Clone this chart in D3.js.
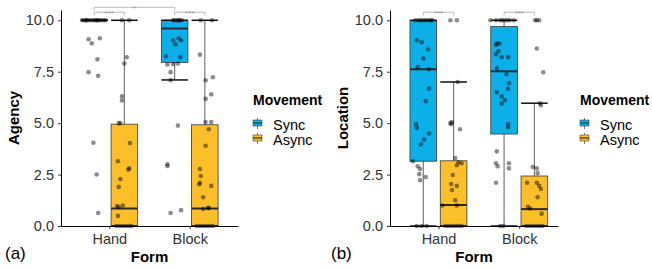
<!DOCTYPE html>
<html>
<head>
<meta charset="utf-8">
<script src="https://cdn.jsdelivr.net/npm/d3@7.9.0/dist/d3.min.js"></script>
<style>
  body { margin: 0; background: #fff; }
  svg { display: block; font-family: "Liberation Sans", Arial, sans-serif; }
</style>
</head>
<body>
<svg id="chart" width="652" height="269"></svg>
<script>
const forms = ["Hand", "Block"];
const movements = ["Sync", "Async"];
const yTicks = [0, 2.5, 5, 7.5, 10];

// box stats: [lower whisker, q1, median, q3, upper whisker]
// order: Hand Sync, Hand Async, Block Sync, Block Async
const agencyStats = [
  [10, 10, 10, 10, 10],
  [0, 0, 0.85, 4.95, 10],
  [7.1, 7.95, 9.6, 10, 10],
  [0, 0, 0.85, 4.92, 10]
];
const locationStats = [
  [0, 3.15, 7.62, 10, 10],
  [0, 0, 1.02, 3.17, 7.0],
  [0, 4.47, 7.52, 9.7, 10],
  [0, 0, 0.82, 2.43, 5.97]
];

// points: [value, jitter (x units)]
const agencyHandSync = [[10,-0.15],[10,-0.12],[10,-0.09],[10,-0.06],[10,-0.03],[10,0],[10,0.02],[10,0.05],[10,0.08],[10,0.11],[10,0.14],[10,-0.1],[10,0.04],
  [9.08,-0.07],[8.88,-0.03],[9.13,0.07],[8.1,0.04],[7.48,-0.07],[7.3,0.05],[4.05,-0.01],[2.5,0.03],[0.63,0.05]];
const agencyHandAsync = [[10,-0.03],[10,0.06],[8.2,0.03],[7.9,0],[6.3,-0.03],[6.1,-0.03],[5.0,-0.07],[5.0,-0.05],[4.03,0.07],[3.15,-0.08],[2.8,0.06],[2.75,0.05],
  [2.28,-0.05],[1.9,-0.07],[0.97,-0.09],[1.0,-0.02],[0.92,-0.07],[0.49,-0.08],[0,-0.1],[0,-0.06],[0,-0.02],[0,0.02],[0,0.06],[0,0.09]];
const agencyBlockSync = [[10,0],[10,0.03],[10,0.06],[10,0.09],[10,-0.02],[10,0.05],[9.03,-0.02],[8.83,0.01],[9.13,0.05],[9.03,0.08],[8.25,-0.11],[8.2,0.07],
  [7.85,-0.09],[7.87,-0.02],[7.9,0.04],[7.48,-0.05],[7.09,-0.05],[4.88,0.04],[3.0,-0.09],[2.92,-0.09],[0.63,-0.05],[0.77,0.08]];
const agencyBlockAsync = [[10,-0.05],[10,0.09],[8.33,-0.06],[7.08,0.01],[7.23,0.1],[6.4,0.08],[6.18,0.01],[5.05,0.01],[5.05,0.08],[4.7,0.05],[3.9,0.01],[2.77,-0.06],
  [2.43,-0.05],[2.1,-0.06],[2.03,-0.07],[1.95,0.08],[1.4,-0.02],[0.83,-0.02],[0.88,0.04],[0.87,0.05],[0,-0.1],[0,-0.06],[0,-0.02],[0,0.02],[0,0.06],[0,0.1]];

const locationHandSync = [[10,-0.1],[10,-0.06],[10,-0.03],[10,0],[10,0.03],[10,0.06],[10,0.09],[10,0.11],[9.03,-0.08],[8.93,-0.02],[8.58,0.06],[8.14,0],
  [7.73,-0.07],[7.62,0.07],[6.68,0.07],[6.07,0.03],[4.95,-0.09],[4.77,-0.08],[4.5,0.07],[4.2,0.01],[3.97,-0.03],[3.15,-0.13],[2.9,-0.07],[2.77,-0.04],
  [2.52,-0.05],[2.38,0.03],[2.23,-0.04],[0,-0.08],[0,-0.02],[0,0.04]];
const locationHandAsync = [[10,-0.04],[10,0.04],[7.0,0.05],[5.0,-0.04],[5.05,-0.02],[4.7,0.08],[4.95,-0.03],[3.3,0.02],[3.1,0.06],[3.05,0.1],[2.95,0.04],
  [2.48,-0.01],[2.04,-0.03],[1.95,0.04],[1.75,-0.02],[1.25,0.02],[1.0,-0.14],[1.0,0.04],[0,-0.1],[0,-0.06],[0,-0.02],[0,0.02],[0,0.06],[0,0.1]];
const locationBlockSync = [[10,-0.17],[10,-0.1],[10,-0.05],[10,-0.02],[10,0.01],[10,0.04],[10,0.07],[10,0.12],[8.87,-0.09],[8.87,-0.06],[8.8,-0.1],[8.5,-0.07],
  [8.35,-0.1],[8.2,-0.03],[8.2,0.05],[7.67,-0.09],[7.38,0.03],[6.95,0.06],[6.68,0.05],[6.5,-0.09],[6.3,-0.03],[6.12,0.01],[5.96,-0.03],[4.95,0.05],[4.8,0.05],
  [3.63,-0.09],[3.05,-0.1],[2.9,-0.08],[3.05,0.06],[2.8,0.06],[2.1,-0.1],[0,-0.05],[0,-0.01]];
const locationBlockAsync = [[10,0.01],[10,0.03],[10,0.06],[8.63,0.03],[7.47,0.11],[5.97,0.07],[5.87,0.08],[2.87,-0.02],[2.8,0.03],[2.57,0.04],[2.1,-0.09],
  [2.1,0.03],[1.95,0.06],[1.8,0.08],[1.4,0.04],[0.93,-0.08],[0.85,-0.05],[0.6,0.09],[0,-0.1],[0,-0.06],[0,-0.02],[0,0.02],[0,0.06],[0,0.1]];

// significance brackets: [form a, movement a, form b, movement b, label, level]
const agencySig = [["Hand","Sync","Hand","Async","***",0], ["Block","Sync","Block","Async","***",0], ["Hand","Sync","Block","Sync","*",1]];
const locationSig = [["Hand","Sync","Hand","Async","***",0], ["Block","Sync","Block","Async","***",0]];

const colors = { Sync: "#0cafe8", Async: "#fcbf29" };
const svg = d3.select("#chart");
const dodge = 0.1875, halfW = 0.165;

function drawPanel(o) {
  const x = d3.scaleLinear().domain(o.xDomain).range([o.x0, o.x1]);
  const y = d3.scaleLinear().domain([0, 10.5]).range([226, 10]);
  const g = svg.append("g");
  const pos = (f, m) => forms.indexOf(f) + 1 + (m === "Sync" ? -dodge : dodge);

  const boxes = [];
  forms.forEach((f, fi) => movements.forEach((m, mi) => {
    const s = o.stats[fi * 2 + mi];
    boxes.push({ f, m, lo: s[0], q1: s[1], med: s[2], q3: s[3], hi: s[4], pts: o.points[fi * 2 + mi] });
  }));

  // whiskers
  g.selectAll(".whisk").data(boxes).join("line")
    .attr("x1", d => x(pos(d.f, d.m))).attr("x2", d => x(pos(d.f, d.m)))
    .attr("y1", d => y(d.lo)).attr("y2", d => y(d.hi))
    .attr("stroke", "#7a7a7a").attr("stroke-width", 1.2);
  // boxes
  g.selectAll(".box").data(boxes).join("rect")
    .attr("x", d => x(pos(d.f, d.m) - halfW))
    .attr("width", d => x(pos(d.f, d.m) + halfW) - x(pos(d.f, d.m) - halfW))
    .attr("y", d => y(d.q3)).attr("height", d => y(d.q1) - y(d.q3))
    .attr("fill", d => colors[d.m]).attr("stroke", "#3a3a3a").attr("stroke-width", 0.8);
  // caps
  boxes.forEach(d => {
    [d.lo, d.hi].forEach(v => {
      g.append("line")
        .attr("x1", x(pos(d.f, d.m) - halfW)).attr("x2", x(pos(d.f, d.m) + halfW))
        .attr("y1", y(v)).attr("y2", y(v))
        .attr("stroke", "#111").attr("stroke-width", 1.5);
    });
  });
  // medians
  g.selectAll(".med").data(boxes).join("line")
    .attr("x1", d => x(pos(d.f, d.m) - halfW)).attr("x2", d => x(pos(d.f, d.m) + halfW))
    .attr("y1", d => y(d.med)).attr("y2", d => y(d.med))
    .attr("stroke", "#2b2b2b").attr("stroke-width", 2);
  // points
  boxes.forEach(d => {
    g.selectAll(null).data(d.pts).join("circle")
      .attr("cx", p => x(pos(d.f, d.m) + p[1])).attr("cy", p => y(p[0]))
      .attr("r", 2.3).attr("fill", "#000").attr("fill-opacity", 0.45);
  });

  // axes
  const ya = g.append("g").attr("transform", `translate(${o.x0},0)`)
    .call(d3.axisLeft(y).tickValues(yTicks).tickFormat(d3.format(".1f")).tickSize(3).tickSizeOuter(0).tickPadding(4));
  const xa = g.append("g").attr("transform", `translate(0,${y(0)})`)
    .call(d3.axisBottom(x).tickValues([1, 2]).tickFormat(i => forms[i - 1]).tickSize(3).tickSizeOuter(0).tickPadding(5));
  [ya, xa].forEach(a => {
    a.selectAll("text").attr("font-size", 14.5).attr("fill", "#333").attr("font-family", "Liberation Sans, Arial, sans-serif");
    a.selectAll("line").attr("stroke", "#333");
    a.select(".domain").attr("stroke", "#000").attr("stroke-width", 1);
  });

  // significance brackets
  const levY = [10.39, 10.63];
  o.sig.forEach(s => {
    const xa1 = x(pos(s[0], s[1])), xb = x(pos(s[2], s[3]));
    const yl = y(levY[s[5]]), yt = y(levY[s[5]] - 0.15);
    g.append("path").attr("d", `M${xa1},${yt}V${yl}H${xb}V${yt}`)
      .attr("fill", "none").attr("stroke", "#aaa").attr("stroke-width", 0.8);
    g.append("text").attr("x", (xa1 + xb) / 2).attr("y", yl + 4)
      .attr("text-anchor", "middle").attr("font-size", 8).attr("fill", "#999").text(s[4]);
  });

  // axis titles
  g.append("text").attr("transform", `translate(${o.yTitleX},${(y(0) + y(10.5)) / 2}) rotate(-90)`)
    .attr("text-anchor", "middle").attr("font-size", 15).attr("font-weight", "bold").text(o.yTitle);
  g.append("text").attr("x", (o.x0 + o.x1) / 2).attr("y", 262)
    .attr("text-anchor", "middle").attr("font-size", 15).attr("font-weight", "bold").text("Form");
  g.append("text").attr("x", o.tagX).attr("y", 259).attr("font-size", 17).text(o.tag);

  // legend
  const lg = g.append("g").attr("transform", `translate(${o.legendX},0)`);
  lg.append("text").attr("x", 0).attr("y", 105).attr("font-size", 14).attr("font-weight", "bold").text("Movement");
  movements.forEach((m, i) => {
    const ky = 120 + i * 15;
    lg.append("line").attr("x1", 4.5).attr("x2", 4.5).attr("y1", ky - 2).attr("y2", ky + 9).attr("stroke", "#555").attr("stroke-width", 0.8);
    lg.append("rect").attr("x", 0).attr("y", ky).attr("width", 9).attr("height", 6)
      .attr("fill", colors[m]).attr("stroke", "#444").attr("stroke-width", 0.6);
    lg.append("line").attr("x1", 0).attr("x2", 9).attr("y1", ky + 3).attr("y2", ky + 3).attr("stroke", "#333").attr("stroke-width", 1.2);
    lg.append("text").attr("x", 20).attr("y", ky + 5).attr("dy", "0.32em").attr("font-size", 14.5).text(m);
  });
}

drawPanel({
  x0: 61, x1: 238, xDomain: [0.4, 2.6],
  stats: agencyStats,
  points: [agencyHandSync, agencyHandAsync, agencyBlockSync, agencyBlockAsync],
  sig: agencySig, yTitle: "Agency", yTitleX: 19, tag: "(a)", tagX: 5, legendX: 253
});
drawPanel({
  x0: 390, x1: 558, xDomain: [0.4, 2.48],
  stats: locationStats,
  points: [locationHandSync, locationHandAsync, locationBlockSync, locationBlockAsync],
  sig: locationSig, yTitle: "Location", yTitleX: 348, tag: "(b)", tagX: 331, legendX: 580
});
</script>
</body>
</html>
